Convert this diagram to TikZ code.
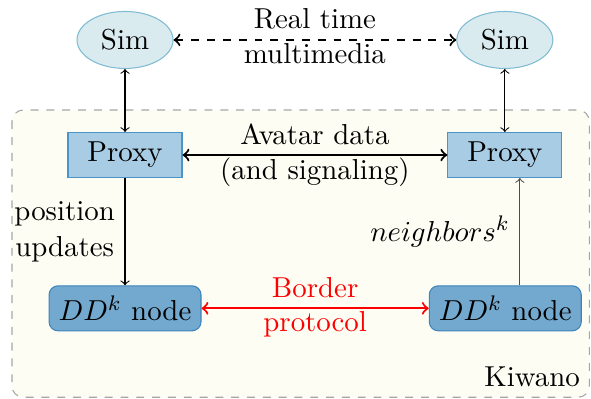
\documentclass[tikz,border=0pt,11pt]{standalone}
\usepackage{tikz}
\usetikzlibrary{positioning, shapes.geometric}
\definecolor{simfill}{HTML}{DAEBF0}
\definecolor{simdraw}{HTML}{7FBCD3}
\definecolor{proxyfill}{HTML}{A8CCE4}
\definecolor{proxydraw}{HTML}{4A94C8}
\definecolor{ddfill}{HTML}{74A9CF}
\definecolor{dddraw}{HTML}{3C84BD}
\definecolor{kiwanofill}{HTML}{FDFDF4}
\tikzset{
	sim/.append style={
		ellipse,
		draw=simdraw,
		fill=simfill,
		inner sep=0mm,
		minimum width=12.8mm,
		minimum height=7.6mm,
	},
	proxy/.append style={
		draw=proxydraw,
		fill=proxyfill,
		minimum width=15.2mm,
		minimum height=6mm,
	},
	ddnode/.append style={
		draw=dddraw,
		fill=ddfill,
		rounded corners=1.2mm,
		minimum width=20mm,
		minimum height=6mm,
	},
	kiwanobox/.append style={
		draw=gray!70,
		dashed,
		fill=kiwanofill,
		rounded corners=1.5mm,
	},
	labe/.append style={
		align = center,
	},
	labebelow/.append style={
		align = center,
		below,
		inner sep=0.8pt,
	}
}

\begin{document}
\begin{tikzpicture}[]

\useasboundingbox (-1.667,-3.24) rectangle (6.213,2.067);

% Kiwano area
\draw[kiwanobox] (-1.507,0.6) rectangle (6.19,-3.23);
\node(kiwano)[anchor=south east] at (6.2,-3.22) {Kiwano};

\node(proxy1)[proxy] at (0,0) {Proxy};
\node(proxy2)[proxy, right = 3.53cm of proxy1] {Proxy};

\node(sim1)[sim, above = 0.84cm of proxy1] {Sim};
\node(sim2)[sim, above = 0.84cm of proxy2] {Sim};

\node(dd1)[ddnode, below = 1.43cm of proxy1] {$DD^k$ node};
\node(dd2)[ddnode, right = 3.03cm of dd1] {$DD^k$ node};

\draw[<->, thick, dashed] (sim1) -- node[labe, above]{Real time} node[labebelow]{multimedia} (sim2);
\draw[<->] (sim1) -- (proxy1);
\draw[<->] (sim2) -- (proxy2);

\draw[<->, thick] (proxy1) -- node[labe, above]{Avatar data} node[labebelow]{(and signaling)} (proxy2);

\draw[->] (proxy1) -- node[labe, left]{position\\updates} (dd1);
\coordinate(nb) at ([xshift=2mm]proxy2.south);
\draw[->, gray!60!black] (nb |- dd2.north) -- node[labe, left, black]{$neighbors^k$} (nb);

\draw[<->, thick, red] (dd1) -- node[labe, above]{Border} node[labebelow]{protocol} (dd2);

\end{tikzpicture}
\end{document}
